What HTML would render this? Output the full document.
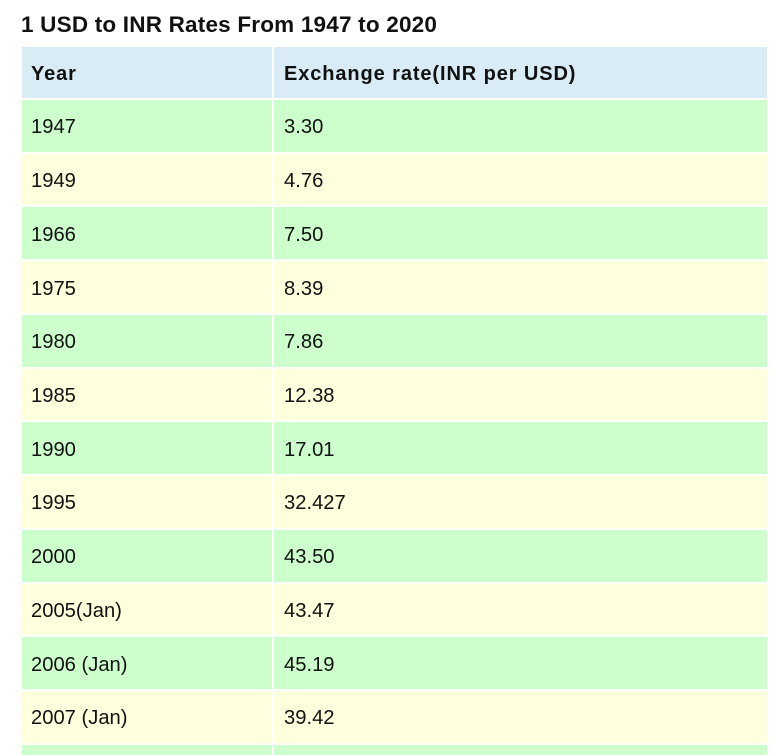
<!DOCTYPE html>
<html><head><style>
html,body{margin:0;width:783px;height:755px;overflow:hidden;background:#fff;font-family:"Liberation Sans",sans-serif;position:relative}
.t{position:absolute;left:21px;top:12px;font-size:22.5px;font-weight:bold;color:#111;letter-spacing:0.2px;white-space:nowrap}
.c{position:absolute;box-sizing:border-box;padding-left:9px;font-size:20.2px;color:#111;display:flex;align-items:center;padding-top:4px;white-space:nowrap}
.h{background:#d9ecf5;font-weight:bold;font-size:20px;letter-spacing:0.9px}
.g{background:#ccffcc}.y{background:#ffffdd}
</style></head><body>
<div class="t">1 USD to INR Rates From 1947 to 2020</div>
<div class="c h" style="left:22px;top:47px;width:250px;height:51px">Year</div>
<div class="c h" style="left:274px;top:47px;width:493px;height:51px;padding-left:10px">Exchange rate(INR per USD)</div>
<div id="rows"></div>
<script>
var d=[["1947","3.30"],["1949","4.76"],["1966","7.50"],["1975","8.39"],["1980","7.86"],["1985","12.38"],["1990","17.01"],["1995","32.427"],["2000","43.50"],["2005(Jan)","43.47"],["2006 (Jan)","45.19"],["2007 (Jan)","39.42"],["",""]];
var h="";
d.forEach(function(r,i){var t=100+i*53.73,cl=i%2?"y":"g";var hh=(i==12)?(755-t):51.7;
h+='<div class="c '+cl+'" style="left:22px;top:'+t+'px;width:250px;height:'+hh+'px">'+r[0]+'</div>';
h+='<div class="c '+cl+'" style="left:274px;top:'+t+'px;width:493px;height:'+hh+'px;padding-left:10px">'+r[1]+'</div>';});
document.getElementById("rows").innerHTML=h;
</script>
</body></html>
